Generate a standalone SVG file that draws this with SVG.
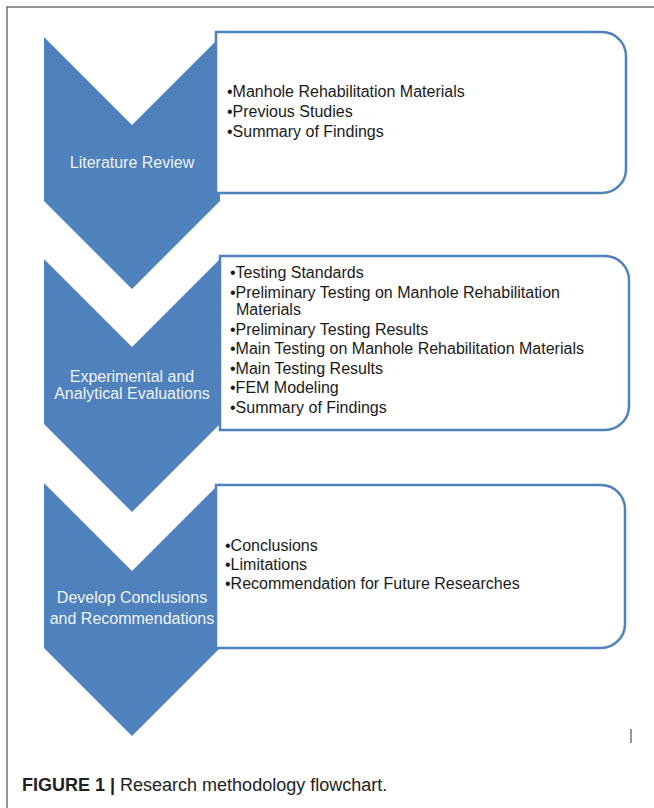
<svg xmlns="http://www.w3.org/2000/svg" width="654" height="808" viewBox="0 0 654 808">
  <style>
    .chev { fill: #4f81bd; }
    .box { fill: #ffffff; stroke: #4f81bd; stroke-width: 2.5; }
    .lbl { font-family: "Liberation Sans", Arial, sans-serif; font-size: 16px; fill: #eef3fa; text-anchor: middle; }
    .item { font-family: "Liberation Sans", Arial, sans-serif; font-size: 16px; fill: #1a1a1a; }
    .cap { font-family: "Liberation Sans", Arial, sans-serif; font-size: 18px; fill: #222222; }
    .frame { stroke: #707070; stroke-width: 1.5; fill: none; }
  </style>
  <rect x="0" y="0" width="654" height="808" fill="#ffffff"/>
  <path class="frame" d="M654,7 H7 V808"/>

  <g id="step1">
    <polygon class="chev" points="44,37 132,125 220,37 220,201 132,289 44,201"/>
    <text class="lbl" x="132" y="168">Literature Review</text>
  </g>
  <g id="step2">
    <polygon class="chev" points="44,259 132,347 220,259 220,424 132,512 44,424"/>
    <text class="lbl" x="132" y="382">Experimental and</text>
    <text class="lbl" x="132" y="399">Analytical Evaluations</text>
  </g>
  <g id="step3">
    <polygon class="chev" points="44,483 132,571 220,483 220,648 132,736 44,648"/>
    <text class="lbl" x="132" y="603">Develop Conclusions</text>
    <text class="lbl" x="132" y="624">and Recommendations</text>
  </g>

  <g id="details1">
    <path class="box" d="M216,32 H602 A24,24 0 0 1 626,56 V169 A24,24 0 0 1 602,193 H216 Z"/>
    <text class="item" x="227" y="97">•Manhole Rehabilitation Materials</text>
    <text class="item" x="227" y="117">•Previous Studies</text>
    <text class="item" x="227" y="137">•Summary of Findings</text>
  </g>
  <g id="details2">
    <path class="box" d="M220,256 H605 A24,24 0 0 1 629,280 V406 A24,24 0 0 1 605,430 H220 Z"/>
    <text class="item" x="230" y="278">•Testing Standards</text>
    <text class="item" x="230" y="298">•Preliminary Testing on Manhole Rehabilitation</text>
    <text class="item" x="236" y="315">Materials</text>
    <text class="item" x="230" y="335">•Preliminary Testing Results</text>
    <text class="item" x="230" y="354">•Main Testing on Manhole Rehabilitation Materials</text>
    <text class="item" x="230" y="374">•Main Testing Results</text>
    <text class="item" x="230" y="393">•FEM Modeling</text>
    <text class="item" x="230" y="413">•Summary of Findings</text>
  </g>
  <g id="details3">
    <path class="box" d="M216,485 H601 A24,24 0 0 1 625,509 V624 A24,24 0 0 1 601,648 H216 Z"/>
    <text class="item" x="225" y="551">•Conclusions</text>
    <text class="item" x="225" y="570">•Limitations</text>
    <text class="item" x="225" y="589">•Recommendation for Future Researches</text>
  </g>

  <g id="connectors"></g>

  <line x1="631" y1="729" x2="631" y2="743" stroke="#555555" stroke-width="1.2"/>

  <g id="caption">
    <text class="cap" x="22" y="791"><tspan font-weight="bold">FIGURE 1 |</tspan> Research methodology flowchart.</text>
  </g>
</svg>
